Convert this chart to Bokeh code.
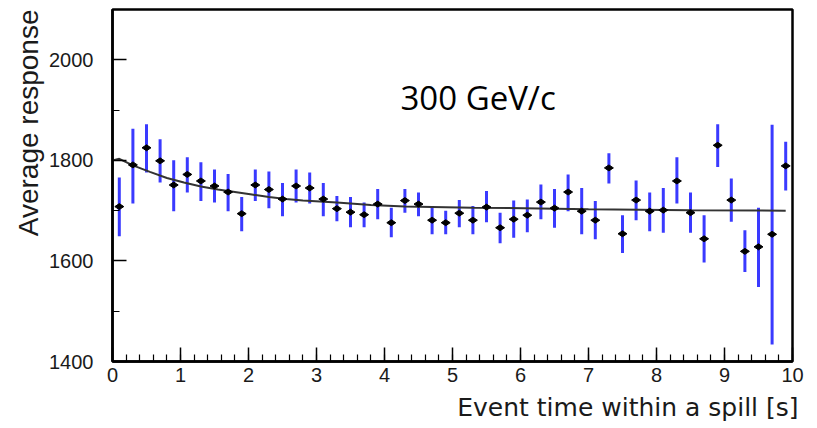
import math
from bokeh.plotting import figure
from bokeh.models import Range1d, SingleIntervalTicker, Label, Title
from bokeh.embed import file_html
from bokeh.resources import INLINE

# ---- data ----
time_s = [0.1, 0.3, 0.5, 0.7, 0.9, 1.1, 1.3, 1.5, 1.7, 1.9,
          2.1, 2.3, 2.5, 2.7, 2.9, 3.1, 3.3, 3.5, 3.7, 3.9,
          4.1, 4.3, 4.5, 4.7, 4.9, 5.1, 5.3, 5.5, 5.7, 5.9,
          6.1, 6.3, 6.5, 6.7, 6.9, 7.1, 7.3, 7.5, 7.7, 7.9,
          8.1, 8.3, 8.5, 8.7, 8.9, 9.1, 9.3, 9.5, 9.7, 9.9]
response = [1708, 1791, 1825, 1799, 1751, 1772, 1759, 1749, 1737, 1694,
            1751, 1742, 1723, 1749, 1745, 1723, 1704, 1697, 1692, 1713,
            1676, 1720, 1713, 1681, 1676, 1695, 1681, 1707, 1666, 1683,
            1691, 1717, 1705, 1737, 1699, 1681, 1785, 1654, 1721, 1699,
            1701, 1759, 1696, 1644, 1830, 1721, 1619, 1628, 1653, 1789]
response_low = [1649, 1714, 1776, 1756, 1699, 1736, 1719, 1716, 1699, 1659,
                1719, 1705, 1689, 1716, 1714, 1689, 1679, 1667, 1667, 1683,
                1647, 1696, 1689, 1653, 1653, 1667, 1653, 1677, 1635, 1646,
                1657, 1683, 1666, 1699, 1653, 1643, 1754, 1616, 1681, 1659,
                1656, 1714, 1656, 1597, 1787, 1678, 1578, 1548, 1434, 1740]
response_high = [1766, 1863, 1872, 1842, 1800, 1806, 1796, 1782, 1773, 1727,
                 1782, 1778, 1755, 1782, 1776, 1755, 1729, 1727, 1716, 1743,
                 1706, 1743, 1736, 1709, 1700, 1721, 1709, 1739, 1696, 1720,
                 1722, 1752, 1743, 1772, 1745, 1719, 1814, 1691, 1760, 1736,
                 1745, 1806, 1736, 1691, 1872, 1764, 1661, 1706, 1871, 1837]
fit_time = [0.0, 0.1, 0.3, 0.55, 0.8, 1.05, 1.3, 1.55, 1.8, 2.05, 2.3, 2.55,
            2.8, 3.3, 3.8, 4.3, 5.3, 7.0, 8.5, 9.9]
fit_response = [1800, 1803, 1790, 1777, 1765, 1756, 1748, 1742, 1737, 1732, 1727, 1723,
                1720, 1716, 1711, 1708, 1706, 1703, 1701, 1700]
beam_label = "300 GeV/c"
x_title = "Event time within a spill [s]"
y_title = "Average response"

p = figure(width=817, height=428,
           x_range=Range1d(0, 10), y_range=Range1d(1400, 2100),
           output_backend="svg", toolbar_location=None,
           min_border_left=112, min_border_right=25,
           min_border_top=9, min_border_bottom=67)

p.background_fill_color = "white"
p.border_fill_color = "white"
p.xgrid.visible = False
p.ygrid.visible = False
p.outline_line_color = "black"
p.outline_line_width = 2.5

# error bars
p.segment(x0=time_s, y0=response_low, x1=time_s, y1=response_high,
          line_color="#3a3aff", line_width=3)
# fit curve
p.line(fit_time, fit_response, line_color="#333333", line_width=2)
# markers
p.scatter(time_s, response, marker="diamond", size=9, angle=math.pi / 2,
          fill_color="black", line_color="black")

p.add_layout(Label(x=4.235, y=1925, text=beam_label, text_font="Open Sans",
                   text_font_size="33px", text_color="black",
                   text_baseline="alphabetic", text_align="left"))

p.xaxis.ticker = SingleIntervalTicker(interval=1, num_minor_ticks=5)
p.yaxis.ticker = SingleIntervalTicker(interval=200, num_minor_ticks=2)

for ax in (p.xaxis[0], p.yaxis[0]):
    ax.axis_line_color = "black"
    ax.axis_line_width = 2.5
    ax.major_tick_in = 14
    ax.major_tick_out = 0
    ax.minor_tick_in = 7
    ax.minor_tick_out = 0
    ax.major_tick_line_color = "black"
    ax.minor_tick_line_color = "black"
    ax.major_tick_line_width = 1.5
    ax.minor_tick_line_width = 1.2
    ax.major_label_text_font = "Liberation Sans"
    ax.major_label_text_font_size = "20px"
    ax.major_label_text_color = "#1a1a1a"

p.xaxis.major_label_standoff = 6
p.yaxis.major_label_standoff = 19

# axis titles, aligned to the far end of each axis like the original
p.add_layout(Title(text=x_title, align="right", text_font="DejaVu Sans",
                   text_font_size="25px", text_font_style="normal",
                   text_color="#1a1a1a", standoff=13, offset=-6), "below")
p.add_layout(Title(text=y_title, align="right", text_font="Liberation Sans",
                   text_font_size="28px", text_font_style="normal",
                   text_color="#1a1a1a", standoff=6), "left")

open("out.html", "w").write(file_html(p, INLINE))
